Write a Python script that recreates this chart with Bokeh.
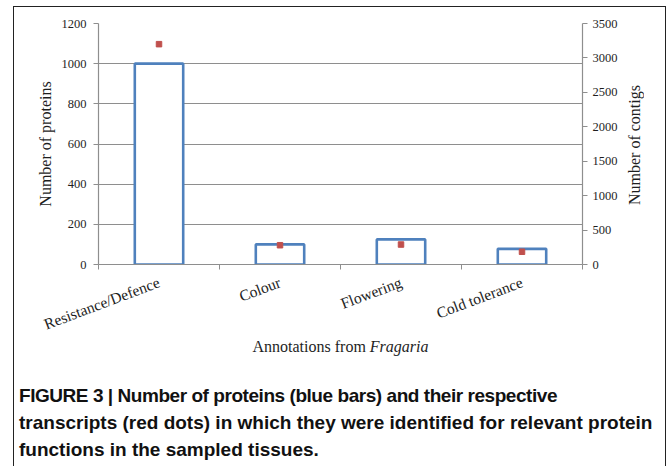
import math
from bokeh.plotting import figure
from bokeh.models import Range1d, LinearAxis, FixedTicker, Div, ColumnDataSource
from bokeh.layouts import column, row
from bokeh.embed import file_html
from bokeh.resources import INLINE

# ---- data ----
categories = ["Resistance/Defence", "Colour", "Flowering", "Cold tolerance"]
proteins = [1000, 100, 125, 78]
contigs = [3200, 280, 290, 185]
left_ticks = [0, 200, 400, 600, 800, 1000, 1200]
right_ticks = [0, 500, 1000, 1500, 2000, 2500, 3000, 3500]
left_title = "Number of proteins"
right_title = "Number of contigs"
x_title = "Annotations from"
x_title_italic = "Fragaria"
caption_lines = ["FIGURE 3 | Number of proteins (blue bars) and their respective",
                 "transcripts (red dots) in which they were identified for relevant protein",
                 "functions in the sampled tissues."]

n = len(categories)
centers = [i + 0.5 for i in range(n)]
bounds = list(range(n + 1))
src = ColumnDataSource(dict(x=centers, cat=categories, proteins=proteins, contigs=contigs))

SERIF = "Liberation Serif"
GRID = "#8e8e8e"
TXT = "#1e1e1e"
SIDE_W = 40

p = figure(width=651 - SIDE_W, height=336, x_range=Range1d(0, n),
           y_range=Range1d(0, left_ticks[-1]),
           output_backend="svg", toolbar_location=None, margin=0,
           min_border_left=84, min_border_right=83 - SIDE_W, min_border_top=16,
           min_border_bottom=78)
p.extra_y_ranges = {"contigs": Range1d(0, right_ticks[-1])}
p.outline_line_color = None
p.background_fill_color = "white"
p.border_fill_color = "white"

# left axis
ya = p.yaxis[0]
ya.ticker = FixedTicker(ticks=left_ticks)
ya.axis_label = left_title

# right axis (its title is set in the side panel so that it reads bottom-to-top)
ra = LinearAxis(y_range_name="contigs", ticker=FixedTicker(ticks=right_ticks))
p.add_layout(ra, "right")

for ax in (ya, ra):
    ax.axis_line_color = GRID
    ax.axis_line_width = 1.2
    ax.major_tick_line_color = GRID
    ax.major_tick_out = 5
    ax.major_tick_in = 0
    ax.minor_tick_out = 0
    ax.minor_tick_in = 0
    ax.major_label_text_font = SERIF
    ax.major_label_text_font_size = "12.5px"
    ax.major_label_text_color = TXT
    ax.axis_label_text_font = SERIF
    ax.axis_label_text_font_style = "normal"
    ax.axis_label_text_font_size = "16px"
    ax.axis_label_text_color = TXT
ya.major_label_standoff = 7
ya.axis_label_standoff = 5
ra.major_label_standoff = 5

# bottom axis
xa = p.xaxis[0]
xa.ticker = FixedTicker(ticks=centers, minor_ticks=bounds)
xa.major_label_overrides = {c: cat for c, cat in zip(centers, categories)}
xa.major_tick_out = 0
xa.major_tick_in = 0
xa.minor_tick_out = 5
xa.minor_tick_in = 0
xa.minor_tick_line_color = GRID
xa.axis_line_color = GRID
xa.axis_line_width = 1.2
xa.major_label_orientation = 0.36
xa.major_label_text_font = SERIF
xa.major_label_text_font_size = "15.5px"
xa.major_label_text_color = TXT
xa.major_label_standoff = 12

p.xgrid.visible = False
p.ygrid.ticker = FixedTicker(ticks=left_ticks)
p.ygrid.grid_line_color = GRID
p.ygrid.grid_line_width = 1.2

p.vbar(x="x", top="proteins", bottom=0, width=0.4, source=src,
       fill_color="white", line_color="#4F81BD", line_width=2.6)
p.scatter(x="x", y="contigs", source=src, y_range_name="contigs", marker="square",
          size=5.5, fill_color="#C0504D", line_color="#C0504D")

side_html = (f'<div style="width:19px;height:275px;display:flex;align-items:center;'
             f'justify-content:center;">'
             f'<span style="writing-mode:vertical-rl;transform:rotate(180deg);'
             f'white-space:nowrap;font-family:\'{SERIF}\';font-size:16px;line-height:19px;'
             f'color:{TXT};">{right_title}</span></div>')
side_div = Div(text=side_html, width=SIDE_W, height=336, margin=0,
               styles={"background": "white"})

html = (f'<div style="width:651px;margin-top:-6px;text-align:center;font-family:\'{SERIF}\';'
        f'font-size:16px;line-height:19px;color:{TXT};padding-left:2px;">'
        f'{x_title} <i>{x_title_italic}</i></div>'
        '<div style="margin-top:26px;padding-left:5px;white-space:nowrap;'
        'font-family:\'Liberation Sans\';font-weight:bold;font-size:19px;'
        'line-height:27px;color:#111;">'
        f'<span style="letter-spacing:-0.45px;">{caption_lines[0]}</span><br>'
        + "<br>".join(caption_lines[1:]) + '</div>')
text_div = Div(text=html, width=651, height=123, margin=0)

layout = column(row(p, side_div, spacing=0, margin=0), text_div, spacing=0,
                margin=(6, 0, 0, 13),
                styles={"border": "1.5px solid #222", "border-bottom": "none",
                        "background": "white"})

open("out.html", "w").write(file_html(layout, INLINE))
